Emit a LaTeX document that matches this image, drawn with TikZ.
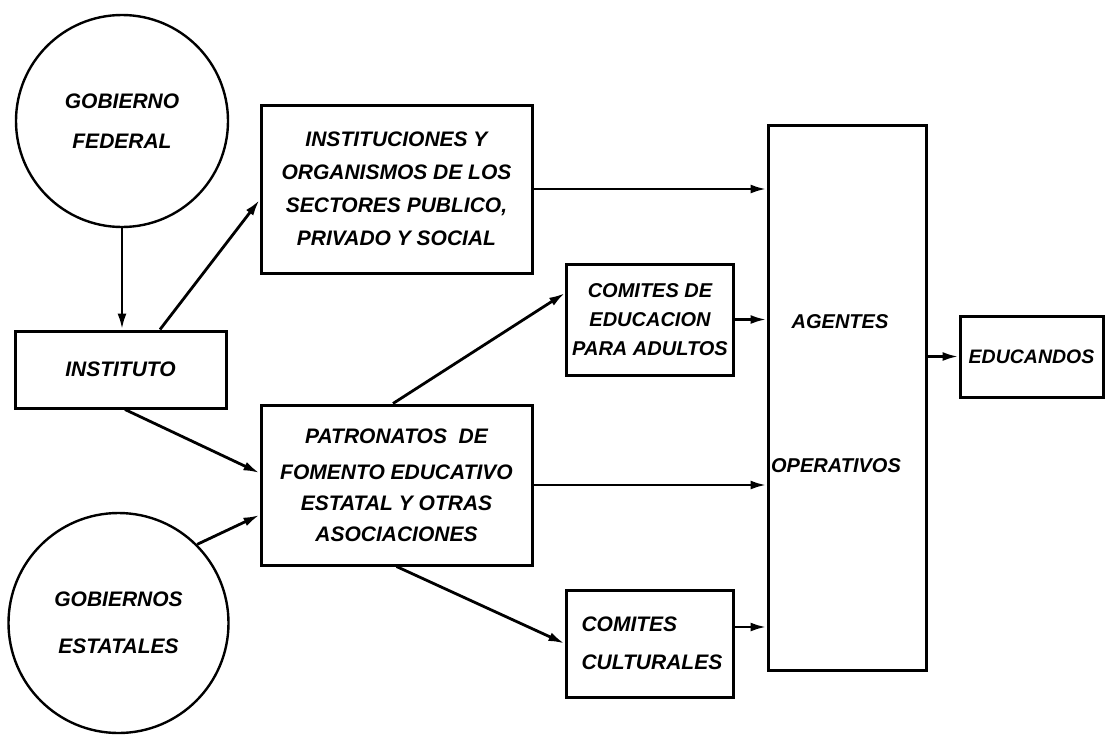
\documentclass[tikz,border=0pt]{standalone}
\usepackage{fontspec}
\setmainfont{Liberation Sans}
\usetikzlibrary{arrows.meta,calc}
\newcommand\ldg[1]{\fontsize{21}{#1}\selectfont\bfseries\itshape}
\newcommand\ldgs[2]{\fontsize{#1}{#2}\selectfont\bfseries\itshape}
\begin{document}
\begin{tikzpicture}[x=1pt,y=-1pt,
  font=\ldg{25},
  box/.style={draw, line width=3pt, rectangle, align=center, inner sep=0pt},
  circ/.style={draw, circle, line width=2.4pt, align=center, inner sep=0pt},
  conn/.style={line width=2.8pt, -{Latex[length=16pt,width=9pt]}}]
\useasboundingbox (0,0) rectangle (1107,734);
% circles
\node[circ, minimum size=212pt, font=\ldg{40}] (fed) at (122,121) {GOBIERNO\\FEDERAL};
\node[circ, minimum size=220pt, font=\ldg{47}] (est) at (118.5,623) {GOBIERNOS\\ESTATALES};
% boxes
\node[box, minimum width=211pt, minimum height=77pt] (ins) at (120.5,369.5) {INSTITUTO};
\node[box, minimum width=271pt, minimum height=168pt, font=\ldg{33}] (inst) at (396.5,189)
  {INSTITUCIONES Y\\ORGANISMOS DE LOS\\SECTORES PUBLICO,\\PRIVADO Y SOCIAL};
\node[box, minimum width=271pt, minimum height=160pt, font=\ldg{31}] (patr) at (396.5,485)
  {PATRONATOS\ \ DE\\[5pt]FOMENTO EDUCATIVO\\ESTATAL Y OTRAS\\ASOCIACIONES};
\node[box, minimum width=167pt, minimum height=111pt, font=\ldgs{20}{29}] (cea) at (650,319.5)
  {COMITES DE\\EDUCACION\\PARA ADULTOS};
\node[box, minimum width=167pt, minimum height=107pt, font=\ldg{38}, align=left, text width=136pt] (ccul) at (649.5,643.5)
  {COMITES\\CULTURALES};
\node[box, minimum width=158pt, minimum height=545pt] (ag) at (847,397.5) {};
\node[font=\ldgs{20}{25}] (agt1) at (840,322) {AGENTES};
\node[font=\ldgs{20}{25}] (agt2) at (836,466) {OPERATIVOS};
\node[box, minimum width=143pt, minimum height=81pt, font=\ldgs{19.5}{25}] (edu) at (1031.5,356.5) {EDUCANDOS};
% connectors
\draw[conn] (fed.south) -- (fed.south |- ins.north);
\draw[conn] ([xshift=39.5pt]ins.north) -- ([yshift=-11pt]inst.west);
\draw[conn] ([xshift=4.5pt]ins.south) -- ([yshift=12pt]patr.west);
\draw[conn] (est.45) -- ([yshift=-30pt]patr.west);
\draw[conn] (inst.east) -- (inst.east -| ag.west);
\draw[conn] ([xshift=-3.5pt]patr.north) -- ([yshift=26.5pt]cea.west);
\draw[conn] (patr.south) -- (ccul.west);
\draw[conn] (cea.east) -- (cea.east -| ag.west);
\draw[conn] (patr.east) -- (patr.east -| ag.west);
\draw[conn] ([yshift=16.5pt]ccul.east) -- ([yshift=16.5pt]ccul.east -| ag.west);
\draw[conn] (ag.east |- edu.west) -- (edu.west);
\end{tikzpicture}
\end{document}
